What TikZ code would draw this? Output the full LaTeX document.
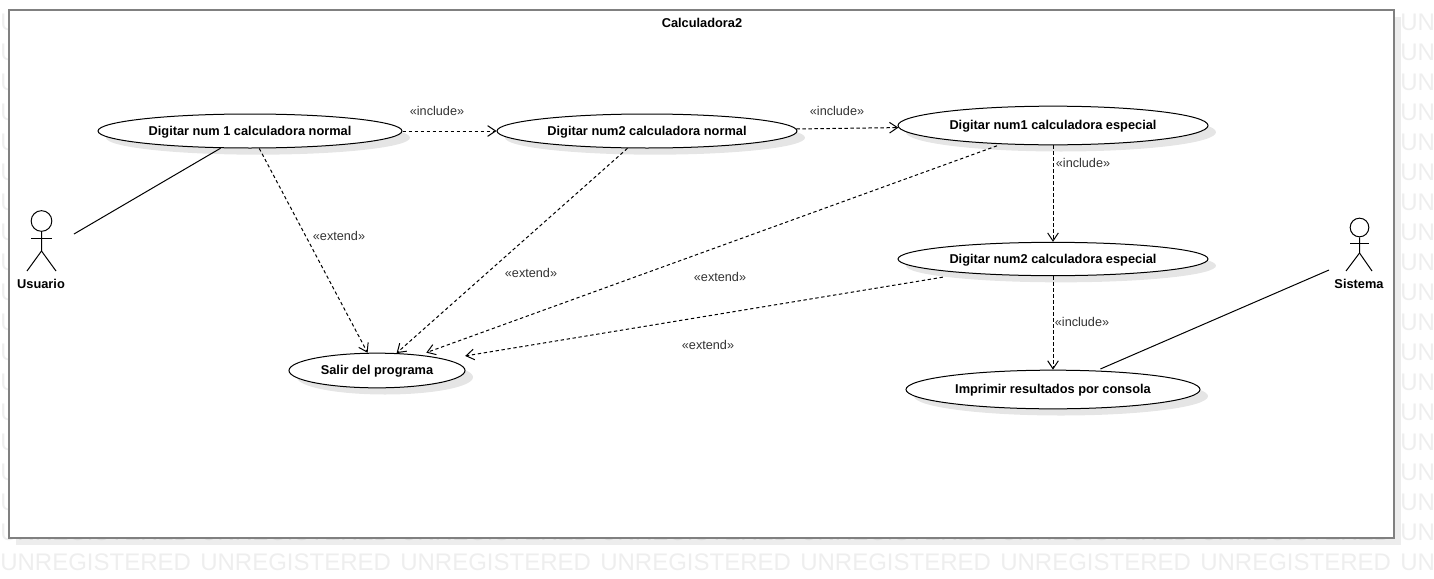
\documentclass[tikz,border=0pt]{standalone}
\usepackage{fontspec}
\setmainfont{Liberation Sans}
\usetikzlibrary{arrows.meta,shapes.geometric,shadows}
\definecolor{framegray}{HTML}{808080}
\definecolor{markgray}{HTML}{EEEEEE}
\definecolor{tagtext}{HTML}{333333}
\tikzset{
	usecase/.style={ellipse, draw, fill=white, inner sep=0pt, line width=0.75pt, text height=6.5pt, text depth=0pt,
		font=\fontsize{9.6}{11}\selectfont\bfseries,
		drop shadow={shadow xshift=6pt, shadow yshift=-5pt, fill=black, opacity=0.1}},
	tag/.style={inner sep=0pt, text=tagtext, font=\fontsize{9.5}{11}\selectfont},
	namebox/.style={inner sep=0pt, font=\fontsize{9.6}{11}\selectfont\bfseries},
	dep/.style={line width=0.75pt, dash pattern=on 2.5pt off 2pt, -{Straight Barb[length=6pt,width=8pt]}},
	assoc/.style={line width=0.75pt},
	actorhead/.style={circle, draw, inner sep=0pt, minimum size=15.5pt, line width=0.75pt}
}
\begin{document}
\begin{tikzpicture}[x=0.75pt, y=-0.75pt]
	\path[use as bounding box, clip] (0,0) rectangle (1434,578);
	% Marca de agua
	\foreach \r in {0,...,18}
		\foreach \c in {0,...,7}
			\node[text=markgray, inner sep=0pt, anchor=west, font=\fontsize{18}{24}\selectfont] (mark\r-\c) at (200*\c,22+30*\r) {UNREGISTERED};

	% Marco del sistema
	\node[draw=framegray, fill=white, line width=1.5pt, inner sep=0pt, minimum width=1038.75pt, minimum height=396pt,
		drop shadow={shadow xshift=5pt, shadow yshift=-5pt, fill=black, opacity=0.07}] (frame) at (701.5,274) {};
	\node[namebox] (title) at (702,23) {Calculadora2};

	% Casos de uso
	\node[usecase, minimum width=228pt, minimum height=25.5pt] (num1n) at (250,131) {Digitar num 1 calculadora normal};
	\node[usecase, minimum width=225pt, minimum height=25.5pt] (num2n) at (647,131) {Digitar num2 calculadora normal};
	\node[usecase, minimum width=232.5pt, minimum height=29pt] (num1e) at (1053,125.5) {Digitar num1 calculadora especial};
	\node[usecase, minimum width=232.5pt, minimum height=25pt] (num2e) at (1053,259) {Digitar num2 calculadora especial};
	\node[usecase, minimum width=220.5pt, minimum height=29pt] (print) at (1053,389.5) {Imprimir resultados por consola};
	\node[usecase, minimum width=132pt, minimum height=26pt] (exit) at (377,370.5) {Salir del programa};

	% Actores
	\node[actorhead] (usuario) at (41.5,221) {};
	\draw[assoc] (usuario) -- (41.5,251) -- (27,271);
	\draw[assoc] (41.5,251) -- (56,271);
	\draw[assoc] (31,238) -- (52,238);
	\node[namebox] (usuarioName) at (41,284) {Usuario};
	\node[actorhead, minimum size=14pt] (sistema) at (1359.5,227.5) {};
	\draw[assoc] (sistema) -- (1359.5,253) -- (1346,271);
	\draw[assoc] (1359.5,253) -- (1372,271);
	\draw[assoc] (1350,243) -- (1369,243);
	\node[namebox] (sistemaName) at (1359,284) {Sistema};

	\coordinate (usuarioEnd) at (74,234);
	\coordinate (sistemaEnd) at (1329,270);

	% Conexiones
	\draw[assoc] (usuarioEnd) -- (num1n);
	\draw[assoc, shorten >=3pt] (sistemaEnd) -- (print);
	\draw[dep] (num1n) -- (num2n);
	\draw[dep] (num2n) -- (num1e);
	\draw[dep] (num1e) -- (num2e);
	\draw[dep] (num2e) -- (print);
	\draw[dep] (num1n) -- (exit);
	\draw[dep] (num2n) -- (exit);
	\draw[dep, shorten <=3.5pt, shorten >=5pt] (num1e) -- (exit);
	\draw[dep, shorten <=18pt, shorten >=15pt] (num2e) -- (exit);

	% Etiquetas
	\node[tag] (inc1) at (437,111) {«include»};
	\node[tag] (inc2) at (837,111) {«include»};
	\node[tag] (inc3) at (1083,163) {«include»};
	\node[tag] (inc4) at (1082,322) {«include»};
	\node[tag] (ext1) at (339,236) {«extend»};
	\node[tag] (ext2) at (531,273) {«extend»};
	\node[tag] (ext3) at (720,277) {«extend»};
	\node[tag] (ext4) at (708,345) {«extend»};
\end{tikzpicture}
\end{document}
